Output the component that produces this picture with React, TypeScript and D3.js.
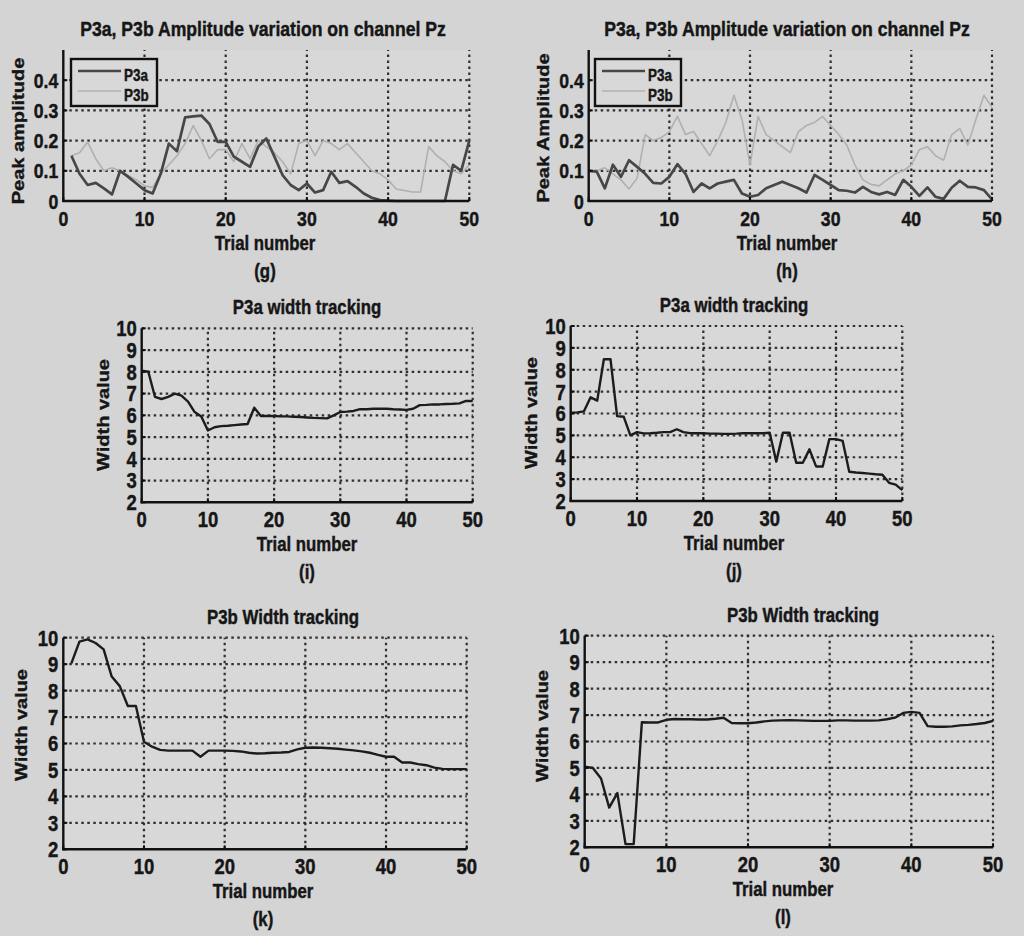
import React from 'react';
import * as d3 from 'd3';

// ---------- data ----------
const trialTicks = [0, 10, 20, 30, 40, 50];
const amplitudeTicks = [0, 0.1, 0.2, 0.3, 0.4];
const widthTicks = [2, 3, 4, 5, 6, 7, 8, 9, 10];
const seriesNames = ['P3a', 'P3b'];

// (g) amplitude, trials 1..50
const gP3a = [0.15, 0.09, 0.053, 0.06, 0.042, 0.022, 0.1, 0.08, 0.058, 0.036,
  0.025, 0.09, 0.19, 0.165, 0.277, 0.28, 0.283, 0.255, 0.196, 0.196,
  0.147, 0.13, 0.113, 0.18, 0.207, 0.147, 0.086, 0.053, 0.036, 0.058,
  0.028, 0.036, 0.097, 0.06, 0.066, 0.047, 0.025, 0.011, 0.003, 0.001,
  0, 0, 0, 0, 0, 0, 0, 0.12, 0.1, 0.2];
const gP3b = [0.15, 0.16, 0.195, 0.14, 0.1, 0.11, 0.1, 0.085, 0.07, 0.05,
  0.045, 0.09, 0.12, 0.15, 0.19, 0.25, 0.2, 0.14, 0.17, 0.17,
  0.13, 0.19, 0.14, 0.2, 0.18, 0.16, 0.13, 0.09, 0.19, 0.2,
  0.15, 0.2, 0.19, 0.17, 0.19, 0.16, 0.13, 0.1, 0.09, 0.07,
  0.04, 0.035, 0.03, 0.03, 0.18, 0.15, 0.13, 0.1, 0.09, 0.12];
// (h) amplitude, trials 0..50
const hP3a = [0.1, 0.097, 0.042, 0.12, 0.08, 0.135, 0.113, 0.09, 0.06, 0.058,
  0.08, 0.122, 0.09, 0.03, 0.058, 0.042, 0.058, 0.064, 0.07, 0.025,
  0.014, 0.02, 0.042, 0.053, 0.064, 0.053, 0.042, 0.028, 0.086, 0.07,
  0.053, 0.036, 0.034, 0.028, 0.047, 0.03, 0.022, 0.03, 0.02, 0.07,
  0.047, 0.017, 0.045, 0.014, 0.007, 0.044, 0.067, 0.047, 0.045, 0.036, 0.005];
const hP3b = [0.1, 0.1, 0.11, 0.09, 0.07, 0.04, 0.075, 0.22, 0.2, 0.21,
  0.23, 0.28, 0.22, 0.23, 0.19, 0.15, 0.2, 0.26, 0.35, 0.27,
  0.12, 0.28, 0.22, 0.2, 0.18, 0.16, 0.23, 0.25, 0.26, 0.28,
  0.25, 0.22, 0.185, 0.12, 0.07, 0.055, 0.05, 0.07, 0.09, 0.1,
  0.12, 0.17, 0.18, 0.15, 0.135, 0.22, 0.24, 0.185, 0.27, 0.35, 0.31];
// (i) P3a width, trials 0..50
const iWidth = [8.05, 8.0, 6.85, 6.75, 6.85, 7.0, 6.9, 6.63, 6.15, 5.95,
  5.3, 5.45, 5.5, 5.52, 5.55, 5.58, 5.6, 6.35, 5.97, 5.97,
  5.97, 5.95, 5.95, 5.93, 5.92, 5.9, 5.88, 5.87, 5.86, 6.0,
  6.15, 6.17, 6.2, 6.28, 6.28, 6.3, 6.3, 6.3, 6.28, 6.27,
  6.25, 6.3, 6.47, 6.48, 6.5, 6.5, 6.52, 6.53, 6.55, 6.66, 6.66];
// (j) P3a width, trials 0..50
const jWidth = [6.04, 6.05, 6.1, 6.74, 6.59, 8.48, 8.48, 5.88, 5.85, 5.0,
  5.15, 5.09, 5.1, 5.12, 5.15, 5.15, 5.28, 5.15, 5.1, 5.1,
  5.1, 5.08, 5.08, 5.07, 5.07, 5.08, 5.1, 5.1, 5.1, 5.1,
  5.12, 3.8, 5.12, 5.12, 3.75, 3.75, 4.36, 3.58, 3.58, 4.83,
  4.83, 4.75, 3.34, 3.3, 3.28, 3.25, 3.22, 3.2, 2.83, 2.75, 2.5];
// (k) P3b width, trials 1..50
const kWidth = [9.03, 9.85, 9.94, 9.8, 9.56, 8.53, 8.17, 7.42, 7.42, 6.07,
  5.88, 5.76, 5.73, 5.73, 5.73, 5.73, 5.5, 5.73, 5.73, 5.73,
  5.72, 5.7, 5.65, 5.62, 5.63, 5.65, 5.66, 5.68, 5.78, 5.84,
  5.85, 5.84, 5.82, 5.8, 5.77, 5.74, 5.7, 5.65, 5.57, 5.5,
  5.5, 5.28, 5.28, 5.22, 5.18, 5.09, 5.04, 5.03, 5.03, 5.03];
// (l) P3b width, trials 0..50
const lWidth = [5.05, 5.0, 4.6, 3.5, 4.05, 2.12, 2.12, 6.73, 6.72, 6.72,
  6.82, 6.85, 6.84, 6.84, 6.83, 6.83, 6.86, 6.9, 6.7, 6.69,
  6.69, 6.72, 6.76, 6.79, 6.8, 6.81, 6.8, 6.79, 6.78, 6.78,
  6.78, 6.8, 6.8, 6.79, 6.79, 6.79, 6.8, 6.84, 6.9, 7.08,
  7.12, 7.08, 6.58, 6.56, 6.56, 6.57, 6.61, 6.63, 6.66, 6.7, 6.78];

// ---------- layout / styles ----------
const FONT = "'Liberation Sans', Arial, Helvetica, sans-serif";
const SX = 0.84;
const TEXT = '#161616';
const BG = '#d4d4d4';
const PLOT_BG = '#d8d8d8';

type Series = { values: number[]; start: number; color: string; width: number };
type PanelCfg = {
  x0: number; x1: number; yTop: number; yBottom: number;
  yDomain: [number, number]; yTicks: number[]; fmt: (v: number) => string;
  title: string; titleX: number; titleSize: number;
  ylabel: string; ylabelX: number; ylabelY: number;
  xlabelX: number; tag: string; tickSize: number;
  series: Series[]; legendX?: number; legendY?: number;
};

const ampFmt = (v: number) => (v === 0 ? '0' : d3.format('.1f')(v));
const intFmt = (v: number) => String(v);

const DARK_AMP = '#474747';
const LIGHT_AMP = '#b0b0b0';
const WIDTH_LINE = '#1c1c1c';

const panels: PanelCfg[] = [
  {
    x0: 63.3, x1: 469.3, yTop: 50, yBottom: 201, yDomain: [0, 0.5], yTicks: amplitudeTicks, fmt: ampFmt,
    title: 'P3a, P3b Amplitude variation on channel Pz', titleX: 263, titleSize: 21,
    ylabel: 'Peak amplitude', ylabelX: 24, ylabelY: 131, xlabelX: 265, tag: '(g)', tickSize: 21,
    series: [
      { values: gP3b, start: 1, color: LIGHT_AMP, width: 1.6 },
      { values: gP3a, start: 1, color: DARK_AMP, width: 2.7 },
    ],
    legendX: 71, legendY: 59,
  },
  {
    x0: 588.7, x1: 992, yTop: 50, yBottom: 201, yDomain: [0, 0.5], yTicks: amplitudeTicks, fmt: ampFmt,
    title: 'P3a, P3b Amplitude variation on channel Pz', titleX: 787, titleSize: 21,
    ylabel: 'Peak Amplitude', ylabelX: 549, ylabelY: 128, xlabelX: 787, tag: '(h)', tickSize: 21,
    series: [
      { values: hP3b, start: 0, color: LIGHT_AMP, width: 1.6 },
      { values: hP3a, start: 0, color: DARK_AMP, width: 2.7 },
    ],
    legendX: 595, legendY: 59,
  },
  {
    x0: 141.7, x1: 472.7, yTop: 328.3, yBottom: 502.3, yDomain: [2, 10], yTicks: widthTicks, fmt: intFmt,
    title: 'P3a width tracking', titleX: 307, titleSize: 20,
    ylabel: 'Width value', ylabelX: 109, ylabelY: 415, xlabelX: 307, tag: '(i)', tickSize: 22,
    series: [{ values: iWidth, start: 0, color: WIDTH_LINE, width: 2.4 }],
  },
  {
    x0: 570.7, x1: 902.3, yTop: 326, yBottom: 501, yDomain: [2, 10], yTicks: widthTicks, fmt: intFmt,
    title: 'P3a width tracking', titleX: 734, titleSize: 20,
    ylabel: 'Width value', ylabelX: 537, ylabelY: 413, xlabelX: 734, tag: '(j)', tickSize: 22,
    series: [{ values: jWidth, start: 0, color: WIDTH_LINE, width: 2.4 }],
  },
  {
    x0: 63.3, x1: 466.7, yTop: 637.7, yBottom: 849.3, yDomain: [2, 10], yTicks: widthTicks, fmt: intFmt,
    title: 'P3b Width tracking', titleX: 283, titleSize: 20,
    ylabel: 'Width value', ylabelX: 27, ylabelY: 725, xlabelX: 263, tag: '(k)', tickSize: 22,
    series: [{ values: kWidth, start: 1, color: WIDTH_LINE, width: 2.4 }],
  },
  {
    x0: 584.7, x1: 993, yTop: 635.7, yBottom: 847.3, yDomain: [2, 10], yTicks: widthTicks, fmt: intFmt,
    title: 'P3b Width tracking', titleX: 803, titleSize: 20,
    ylabel: 'Width value', ylabelX: 548, ylabelY: 726, xlabelX: 783, tag: '(l)', tickSize: 22,
    series: [{ values: lWidth, start: 0, color: WIDTH_LINE, width: 2.4 }],
  },
];

function HText({ x, y, size, anchor = 'middle', children }: any) {
  return (
    <text transform={`translate(${x},${y}) scale(${SX},1)`} fontSize={size} textAnchor={anchor}
      fontFamily={FONT} fontWeight="bold" fill={TEXT} stroke={TEXT} strokeWidth={0.45}>{children}</text>
  );
}
function VText({ x, y, size, children }: any) {
  return (
    <text transform={`translate(${x},${y}) rotate(-90) scale(1,${SX})`} fontSize={size} textAnchor="middle"
      fontFamily={FONT} fontWeight="bold" fill={TEXT} stroke={TEXT} strokeWidth={0.45}>{children}</text>
  );
}

const GRID = { stroke: '#1e1e1e', strokeWidth: 2.2, strokeDasharray: '2.5 3.5', opacity: 0.9 };

function Panel({ cfg }: { cfg: PanelCfg }) {
  const x = d3.scaleLinear().domain([0, 50]).range([cfg.x0, cfg.x1]);
  const y = d3.scaleLinear().domain(cfg.yDomain).range([cfg.yBottom, cfg.yTop]);
  const [ymin, ymax] = cfg.yDomain;
  const hGrid = cfg.yTicks.filter((t) => t > ymin);
  const vGrid = trialTicks.filter((t) => t > 0);
  return (
    <g>
      <rect x={x(0)} y={y(ymax)} width={x(50) - x(0)} height={y(ymin) - y(ymax)} fill={PLOT_BG} />
      {hGrid.map((t) => (
        <line key={'h' + t} x1={x(0)} x2={x(50)} y1={y(t)} y2={y(t)} {...GRID} />
      ))}
      {vGrid.map((t) => (
        <line key={'v' + t} x1={x(t)} x2={x(t)} y1={y(ymin)} y2={y(ymax)} {...GRID} />
      ))}
      {cfg.series.map((s, si) => {
        const line = d3.line<number>()
          .x((_, i) => x(s.start + i))
          .y((d) => y(d));
        return <path key={si} d={line(s.values) || ''} fill="none" stroke={s.color}
          strokeWidth={s.width} strokeLinejoin="round" />;
      })}
      {/* axes */}
      <line x1={x(0)} x2={x(0)} y1={y(ymin) + 1} y2={y(ymax)} stroke="#111" strokeWidth={2.4} />
      <line x1={x(0) - 1} x2={x(50)} y1={y(ymin)} y2={y(ymin)} stroke="#111" strokeWidth={2.4} />
      {cfg.yTicks.map((t) => (
        <g key={'yt' + t}>
          <line x1={x(0)} x2={x(0) + 4} y1={y(t)} y2={y(t)} stroke="#111" strokeWidth={2} />
          <HText x={x(0) - 5} y={y(t) + cfg.tickSize * 0.36} size={cfg.tickSize} anchor="end">{cfg.fmt(t)}</HText>
        </g>
      ))}
      {trialTicks.map((t) => (
        <g key={'xt' + t}>
          <line x1={x(t)} x2={x(t)} y1={y(ymin)} y2={y(ymin) - 4} stroke="#111" strokeWidth={2} />
          <HText x={x(t)} y={y(ymin) + 25} size={cfg.tickSize}>{t}</HText>
        </g>
      ))}
      {/* labels */}
      <HText x={cfg.titleX} y={y(ymax) - 14} size={cfg.titleSize}>{cfg.title}</HText>
      <HText x={cfg.xlabelX} y={y(ymin) + 49} size={20}>Trial number</HText>
      <HText x={cfg.xlabelX} y={y(ymin) + 77} size={20}>{cfg.tag}</HText>
      <VText x={cfg.ylabelX} y={cfg.ylabelY} size={20}>{cfg.ylabel}</VText>
      {cfg.legendX !== undefined && (
        <g>
          <rect x={cfg.legendX} y={cfg.legendY} width={86} height={47} fill={PLOT_BG}
            stroke="#111" strokeWidth={2.4} />
          {seriesNames.map((name, i) => (
            <g key={name}>
              <line x1={cfg.legendX! + 7} x2={cfg.legendX! + 50} y1={cfg.legendY! + 12 + i * 20}
                y2={cfg.legendY! + 12 + i * 20}
                stroke={i === 0 ? DARK_AMP : LIGHT_AMP} strokeWidth={i === 0 ? 2.7 : 1.6} />
              <HText x={cfg.legendX! + 53} y={cfg.legendY! + 22 + i * 20} size={16} anchor="start">{name}</HText>
            </g>
          ))}
        </g>
      )}
    </g>
  );
}

export default function App() {
  return (
    <svg width={1024} height={936} style={{ position: 'absolute', left: 0, top: 0, display: 'block' }}>
      <rect x={0} y={0} width={1024} height={936} fill={BG} />
      {panels.map((p, i) => <Panel key={i} cfg={p} />)}
    </svg>
  );
}
